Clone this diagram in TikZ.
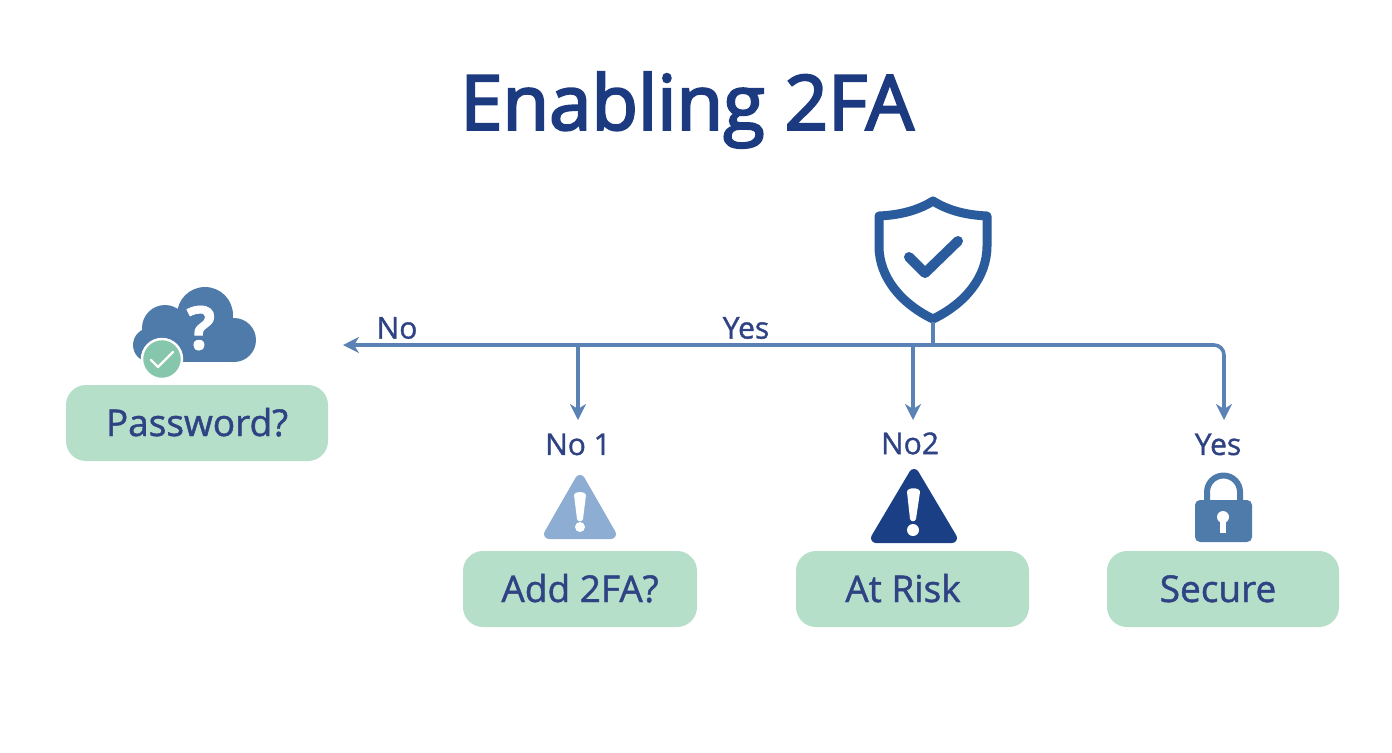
\documentclass[tikz,border=0pt]{standalone}
\usepackage{fontspec}
\setmainfont[FakeBold=1.2]{Open Sans}
\newfontfamily\titlefont[FakeBold=3]{Open Sans}
\usetikzlibrary{positioning}
\usetikzlibrary{arrows.meta}

\definecolor{TitleBlue}{HTML}{1B3A80}
\definecolor{TextBlue}{HTML}{2F4384}
\definecolor{LineBlue}{HTML}{5A82B5}
\definecolor{ShieldBlue}{HTML}{2A5B9C}
\definecolor{IconBlue}{HTML}{4F7BAB}
\definecolor{PaleBlue}{HTML}{8DAED2}
\definecolor{DarkBlue}{HTML}{1B3F84}
\definecolor{BoxGreen}{HTML}{B5DFC9}
\definecolor{BadgeGreen}{HTML}{86C6AC}

\tikzset{
	stepbox/.style={fill=BoxGreen, rounded corners=10pt, minimum height=38pt, text=TextBlue, font=\fontsize{18.5}{20}\selectfont, inner sep=0pt, text height=14pt, text depth=1pt},
	branchlabel/.style={text=TextBlue, font=\fontsize{15}{17}\selectfont, inner sep=0pt},
	flowline/.style={draw=LineBlue, line width=1.8pt, -{Stealth[length=8pt,width=8pt,inset=2.5pt]}},
	warnmark/.style={fill=white, draw=none},
}

\begin{document}
\begin{tikzpicture}[x=0.5pt,y=-0.5pt]

	\useasboundingbox (0,0) rectangle (1392,752);

	%Title
	\node (Title) at (687,110) [text=TitleBlue, inner sep=0pt] {\titlefont\fontsize{38}{42}\selectfont Enabling 2FA};

	%Boxes
	\node (Password) at (197,423) [stepbox, minimum width=131pt] {Password?};
	\node (AddTwoFA) at (580,589) [stepbox, minimum width=117pt] {Add 2FA?};
	\node (AtRisk) at (912.5,589) [stepbox, minimum width=116.5pt] {At Risk\hspace*{9.5pt}};
	\node (Secure) at (1223,589) [stepbox, minimum width=116pt] {Secure\hspace*{5pt}};

	%Labels
	\node (LineNo) at (397,328) [branchlabel] {No};
	\node (LineYes) at (746,328) [branchlabel] {Yes};
	\node (LabelNoOne) at (578,420) [branchlabel, anchor=north, minimum height=24pt] {No 1};
	\node (LabelNoTwo) at (913,420) [branchlabel, anchor=north, minimum height=23pt] {No2\hspace*{3pt}};
	\node (LabelYes) at (1224,420) [branchlabel, anchor=north, minimum height=24pt] {Yes\hspace*{6pt}};

	%Shield
	\node (Shield) at (933,260) [minimum width=58pt, minimum height=62pt, inner sep=0pt] {};
	\draw[draw=ShieldBlue, line width=4.5pt, line join=round]
		(933,201) .. controls (917,211) and (899,215) .. (879,216)
		-- (879,246) .. controls (879,278) and (902,304) .. (933,319)
		.. controls (964,304) and (987,278) .. (987,246)
		-- (987,216) .. controls (967,215) and (949,211) .. (933,201) -- cycle;
	\draw[draw=ShieldBlue, line width=5pt, line cap=round, line join=round] (909,257) -- (925,273) -- (958,241);

	%Cloud
	\fill[IconBlue] (205,315) circle[radius=28];
	\fill[IconBlue] (165,328) circle[radius=23];
	\fill[IconBlue] (150,345) circle[radius=17];
	\fill[IconBlue] (234,340) circle[radius=22];
	\fill[IconBlue] (150,330) rectangle (234,362);
	\node (Question) at (201,328) [text=white, inner sep=0pt] {\bfseries\fontsize{30}{32}\selectfont ?};
	\fill[BadgeGreen, draw=white, line width=1.2pt] (162,359) circle[radius=20];
	\draw[draw=white, line width=1.2pt, line cap=round, line join=round] (151,360) -- (158,367) -- (173,352);

	%Warnings
	\draw[fill=PaleBlue, draw=PaleBlue, line width=5pt, line join=round] (580,480) -- (611,534) -- (549,534) -- cycle;
	\fill[warnmark] (574,495) .. controls (574,491) and (586,491) .. (586,495) -- (583,519) .. controls (582,522) and (578,522) .. (577,519) -- cycle;
	\fill[warnmark] (580,527) circle[radius=5];
	\draw[fill=DarkBlue, draw=DarkBlue, line width=5pt, line join=round] (914,474) -- (952,538) -- (876,538) -- cycle;
	\fill[warnmark] (907,492) .. controls (907,487) and (920,487) .. (920,492) -- (916,519) .. controls (915,522) and (911,522) .. (910,519) -- cycle;
	\fill[warnmark] (913,530) circle[radius=6];

	%Lock
	\draw[draw=IconBlue, line width=3pt] (1207,502) -- (1207,492) arc[start angle=180, end angle=360, radius=16.5] -- (1240,502);
	\fill[IconBlue, rounded corners=2.5pt] (1195,500) rectangle (1252,542);
	\fill[white] (1223,517) circle[radius=6];
	\fill[white] (1220,518) rectangle (1226,533);

	%Connectors
	\coordinate (Trunk) at (933,345);
	\coordinate (NoEnd) at (343,345);
	\draw[draw=LineBlue, line width=1.8pt] (Shield.south) -- (Trunk);
	\draw[flowline] (Trunk) -- (NoEnd);
	\draw[flowline] (LabelNoOne.north |- Trunk) -- (LabelNoOne.north);
	\draw[flowline] (LabelNoTwo.north |- Trunk) -- (913,420);
	\draw[flowline, rounded corners=5pt] (Trunk) -| (LabelYes.north);

\end{tikzpicture}
\end{document}
